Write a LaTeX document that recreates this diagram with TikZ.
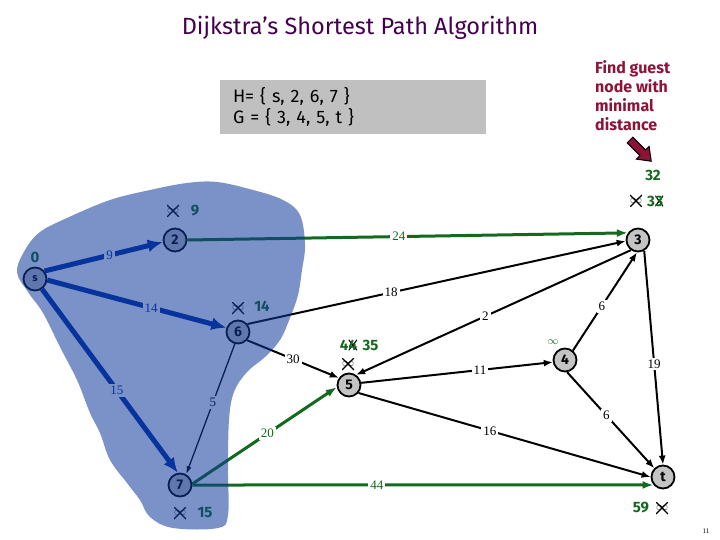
\documentclass[tikz,border=0pt]{standalone}
\usepackage{fontspec}
\setmainfont{Liberation Serif}
\setsansfont{Fira Sans}
\usepackage{tikz}
\usetikzlibrary{arrows.meta, positioning}
\definecolor{nodegray}{RGB}{196,196,196}
\definecolor{boxgray}{RGB}{192,192,192}
\definecolor{treeblue}{RGB}{0,45,160}
\definecolor{darkgreen}{RGB}{20,105,30}
\definecolor{titlepurple}{RGB}{70,0,80}
\definecolor{hintred}{RGB}{140,20,55}
\definecolor{blobblue}{RGB}{13,57,155}

\begin{document}
\begin{tikzpicture}[x=1pt, y=-1pt,
  vtx/.style={circle, draw, line width=1.8pt, fill=nodegray, minimum size=23pt, inner sep=0pt,
              font=\sffamily\bfseries\fontsize{14}{14}\selectfont},
  link/.style={-{Latex[length=9pt,width=7pt]}, line width=2pt},
  thinlink/.style={-{Latex[length=8pt,width=5pt]}, line width=1.3pt},
  treelink/.style={-{Latex[length=15pt,width=13pt]}, line width=5pt, treeblue},
  newlink/.style={-{Latex[length=11pt,width=8pt]}, line width=3pt, darkgreen},
  wt/.style={fill=white, inner sep=2pt, font=\fontsize{13}{13}\selectfont},
  dist/.style={text=darkgreen, inner sep=0pt, font=\sffamily\bfseries\fontsize{15}{15}\selectfont},
  crossed/.style={inner sep=0pt, path picture={
      \draw[line width=1.1pt] (path picture bounding box.south west) -- (path picture bounding box.north east)
                              (path picture bounding box.north west) -- (path picture bounding box.south east);}},
  gone/.style={crossed, font=\fontsize{12}{12}\selectfont, minimum width=10pt, minimum height=12pt}
]
\useasboundingbox (0,0) rectangle (720,540);

\node[font=\sffamily\fontsize{23.5}{24}\selectfont, text=titlepurple] (title) at (360,28) {Dijkstra's Shortest Path Algorithm};
\node[fill=boxgray, minimum width=266pt, minimum height=54pt, text width=240pt, align=left,
      font=\sffamily\fontsize{18}{21}\selectfont] (sets) at (353,107) {H= \{ s, 2, 6, 7 \}\\G = \{ 3, 4, 5, t \}};
\node[anchor=north west, align=left, text=hintred, inner sep=0pt,
      font=\sffamily\bfseries\fontsize{16}{19}\selectfont] (hint) at (595,60) {Find guest\\node with\\minimal\\distance};
% pointer
\begin{scope}[shift={(630,140)}, rotate=-45]
  \filldraw[fill=hintred, draw=black, line width=1pt]
    (0,-4) -- (18,-4) -- (18,-9) -- (30,0) -- (18,9) -- (18,4) -- (0,4) -- cycle;
\end{scope}

% vertices
\node[vtx, font=\sffamily\bfseries\fontsize{11}{11}\selectfont] (s) at (35,279) {s};
\node[vtx] (n2) at (175,240) {2};
\node[vtx] (n3) at (638,240) {3};
\node[vtx] (n4) at (565,360) {4};
\node[vtx] (n5) at (349,385) {5};
\node[vtx] (n6) at (238,332) {6};
\node[vtx] (n7) at (180,485) {7};
\node[vtx] (t) at (663,477) {t};

% edges
\draw[treelink] (s.40) -- node[wt, pos=0.55] {9} (n2.190);
\draw[treelink] (s.-5) -- node[wt, pos=0.58] {14} (n6.160);
\draw[treelink] (s.-55) -- node[wt, pos=0.55] {15} (n7.100);
\draw[thinlink] (n6.-105) -- node[wt, pos=0.45] {5} (n7.60);
\draw[link] (n6.-42) -- node[wt, pos=0.5] {30} (n5.145);
\draw[link] (n6.40) -- node[wt, pos=0.38] {18} (n3.185);
\draw[newlink] (n2.east) -- node[wt, pos=0.48] {24} (n3.145);
\draw[link] (n3.235) -- node[wt, pos=0.53] {2} (n5.55);
\draw[link] (n4.50) -- node[wt, pos=0.45] {6} (n3.-95);
\draw[link] (n3.-60) -- node[wt, pos=0.53] {19} (t.north);
\draw[link] (n5.10) -- node[wt, pos=0.62] {11} (n4.190);
\draw[link] (n4.-80) -- node[wt, pos=0.45] {6} (t.north west);
\draw[link] (n5.-40) -- node[wt, pos=0.45] {16} (t.west);
\draw[newlink] (n7.5) -- node[wt, pos=0.52] {20} (n5.190);
\draw[newlink] (n7.east) -- node[wt, pos=0.40] {44} (t.220);

% distance labels
\node[dist] (d0) at (35,257) {0};
\node[gone] (x2) at (173,211) {$\infty$};
\node[dist] (d2) at (195,211) {9};
\node[gone] (x6) at (238,308) {$\infty$};
\node[dist] (d6) at (262,306) {14};
\node[dist] (d5a) at (344,345) {4};
\node[dist, crossed, right=0pt of d5a] (d5b) {4};
\node[dist, right=5pt of d5b] (d5) {35};
\node[gone] (x5) at (348,364) {$\infty$};
\node[text=darkgreen, font=\fontsize{11}{11}\selectfont, inner sep=0pt] (d4) at (553,342) {$\infty$};
\node[dist] (d3) at (653,175) {32};
\node[gone] (x3) at (636,201) {$\infty$};
\node[dist] (d3a) at (651,201) {3};
\node[dist, crossed, right=0pt of d3a] (d3b) {3};
\node[gone] (x7) at (180,513) {$\infty$};
\node[dist] (d7) at (205,513) {15};
\node[dist] (dt) at (641,508) {59};
\node[gone] (xt) at (662,508) {$\infty$};

\node[font=\fontsize{7}{7}\selectfont] (pgnum) at (706,531) {11};

% explored region
\fill[blobblue, fill opacity=0.55] plot[smooth cycle, tension=0.6] coordinates {
  (17,272) (25,250) (40,232) (67,218) (110,200) (150,190) (187,183) (217,182)
  (253,190) (283,200) (300,215) (305,245) (302,270) (298,295) (290,318) (280,340)
  (265,357) (247,372) (234,392) (229,420) (228,470) (228,515) (218,528) (173,528)
  (150,517) (140,500) (127,483) (110,460) (100,433) (90,413) (77,380) (60,347)
  (43,313) (28,292)};
\end{tikzpicture}
\end{document}
